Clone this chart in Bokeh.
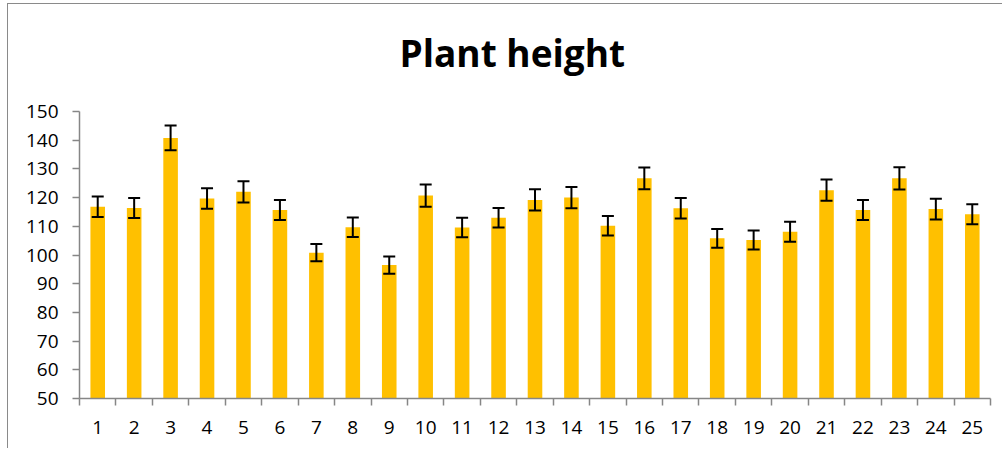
from bokeh.plotting import figure
from bokeh.models import Range1d, FixedTicker, Whisker, TeeHead, ColumnDataSource, Title
from bokeh.embed import file_html
from bokeh.resources import INLINE

# ---- data ----
title_text = "Plant height"
categories = list(range(1, 26))
tick_labels = [str(c) for c in categories]
heights = [116.8, 116.4, 140.8, 119.7, 122.0, 115.7, 100.8, 109.7, 96.5, 120.7,
           109.6, 113.0, 119.2, 120.0, 110.2, 126.7, 116.3, 105.8, 105.2, 108.1,
           122.6, 115.7, 126.7, 116.0, 114.2]
errors = [3.6, 3.5, 4.3, 3.6, 3.7, 3.5, 3.0, 3.4, 3.0, 3.9,
          3.4, 3.4, 3.7, 3.7, 3.4, 3.8, 3.6, 3.3, 3.3, 3.5,
          3.7, 3.5, 3.9, 3.6, 3.5]
y_ticks = [50, 60, 70, 80, 90, 100, 110, 120, 130, 140, 150]

FONT = "Open Sans"

src = ColumnDataSource(dict(
    x=categories,
    top=heights,
    upper=[h + e for h, e in zip(heights, errors)],
    lower=[h - e for h, e in zip(heights, errors)],
))

p = figure(width=995, height=445, output_backend="svg", toolbar_location=None,
           x_range=Range1d(0.5, len(categories) + 0.5),
           y_range=Range1d(y_ticks[0], y_ticks[-1]),
           min_border_left=71, min_border_right=13, min_border_top=107,
           min_border_bottom=51)
p.styles = {"border-left": "1px solid #8a8a8a", "border-top": "1px solid #8a8a8a",
            "margin-left": "7px", "margin-top": "3px"}

# spacer between the frame and the title
spacer = Title(text=" ", text_font=FONT, text_font_size="10px", standoff=8)
p.add_layout(spacer, "above")

p.title.text = title_text
p.title.text_font = FONT
p.title.text_font_size = "37px"
p.title.text_font_style = "bold"
p.title.text_color = "#000000"
p.title.align = "left"
p.title.offset = 320
p.title.standoff = 20

p.vbar(x="x", top="top", bottom=y_ticks[0], width=0.4, source=src,
       fill_color="#FFC000", line_color=None)

w = Whisker(base="x", upper="upper", lower="lower", source=src,
            line_color="black", line_width=2, level="overlay",
            upper_head=TeeHead(size=12, line_color="black", line_width=2),
            lower_head=TeeHead(size=12, line_color="black", line_width=2))
p.add_layout(w)

p.xgrid.visible = False
p.ygrid.visible = False
p.outline_line_color = None
p.background_fill_color = "white"
p.border_fill_color = "white"

# x axis: labels at category centres, tick marks at category boundaries
xa = p.xaxis[0]
xa.ticker = FixedTicker(ticks=categories,
                        minor_ticks=[c - 0.5 for c in categories] + [categories[-1] + 0.5])
xa.major_label_overrides = {c: t for c, t in zip(categories, tick_labels)}
xa.major_tick_line_color = None
xa.major_tick_out = 0
xa.major_tick_in = 0
xa.minor_tick_out = 7
xa.minor_tick_in = 0
xa.minor_tick_line_color = "#868686"
xa.minor_tick_line_width = 1.5
xa.axis_line_color = "#868686"
xa.axis_line_width = 1.5
xa.major_label_text_font = FONT
xa.major_label_text_font_size = "19px"
xa.major_label_text_color = "#000000"
xa.major_label_standoff = 15

ya = p.yaxis[0]
ya.ticker = FixedTicker(ticks=y_ticks)
ya.major_tick_out = 7
ya.major_tick_in = 0
ya.major_tick_line_color = "#868686"
ya.major_tick_line_width = 1.5
ya.minor_tick_line_color = None
ya.axis_line_color = "#868686"
ya.axis_line_width = 1.5
ya.major_label_text_font = FONT
ya.major_label_text_font_size = "19px"
ya.major_label_text_color = "#000000"
ya.major_label_standoff = 14

open("out.html", "w").write(file_html(p, INLINE))
